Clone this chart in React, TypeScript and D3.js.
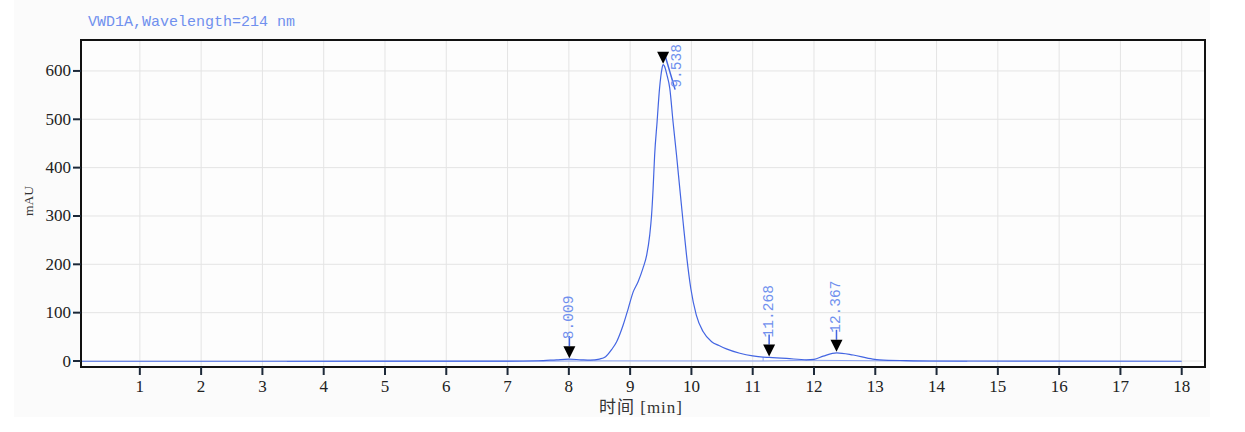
import React from "react";
import * as d3 from "d3";

// chromatogram trace (time in min, signal in mAU)
const TIMES = [
  0.04, 3, 7, 7.5, 7.8, 8.0, 8.2, 8.35, 8.5, 8.6, 8.7, 8.78, 8.885, 8.97, 9.05, 9.13, 9.21, 9.27,
  9.32, 9.35, 9.375, 9.4, 9.44, 9.48, 9.52, 9.538, 9.56, 9.6, 9.647, 9.7, 9.757, 9.81, 9.864,
  9.92, 9.99, 10.08, 10.19, 10.33, 10.45, 10.57, 10.79, 11.0,
  11.17, 11.27, 11.55, 11.88, 12.0, 12.15, 12.37, 12.64, 12.96, 13.07, 13.5, 13.9, 18,
];
const SIGNAL = [
  -0.5, -0.5, -0.3, 0.5, 2.5, 3.8, 2.5, 1.8, 4, 9, 24, 40, 74, 109, 143, 164, 192, 219,
  261, 302, 357, 426, 495, 564, 605, 613, 610, 592, 564, 495, 426, 357, 288,
  219, 150, 95, 61, 40, 32, 25, 16, 10.5,
  8, 7.5, 5.5, 2.5, 3.5, 10, 17, 12.4, 4, 2.5, 0.8, 0, -0.5,
];

// integration baselines
const BASE_START = [3.4, 7.25, 8.4, 11.17, 11.9];
const BASE_END = [7.25, 8.4, 11.17, 11.9, 14.5];
const BASE_V0 = [-1, -0.6, 0.3, 0, 1.5];
const BASE_V1 = [-0.6, 0.3, 0, 1.5, -0.8];

// peak marks
const PEAK_TIMES = [8.009, 9.538, 11.268, 12.367];
const PEAK_HEIGHTS = [3.8, 613, 7.5, 17];
const PEAK_LABELS = ["8.009", "9.538", "11.268", "12.367"];

const X_TICKS = d3.range(1, 19);
const Y_TICKS = [0, 100, 200, 300, 400, 500, 600];

const TITLE = "VWD1A,Wavelength=214 nm";
const X_TITLE = "时间 [min]";
const Y_TITLE = "mAU";

// label that would hit the frame is pushed aside
const LABEL_SHIFT: Record<string, [number, number]> = { "9.538": [14, 36] };

const W = 1245;
const H = 432;
const plot = { left: 81, right: 1205, top: 40, bottom: 367 };

const LINE = "#4365e2";
const LABEL = "#7090ee";
const MONO = "'Liberation Mono', 'DejaVu Sans Mono', monospace";
const SERIF = "'Liberation Serif', 'Noto Sans CJK SC', serif";

export default function App() {
  const x = d3.scaleLinear().domain([0.04, 18.38]).range([plot.left, plot.right]);
  const y = d3.scaleLinear().domain([-12.4, 664]).range([plot.bottom, plot.top]);

  const pts: [number, number][] = TIMES.map((t, i) => [t, SIGNAL[i]]);
  const line = d3
    .line<[number, number]>()
    .x(d => x(d[0]))
    .y(d => y(d[1]))
    .curve(d3.curveMonotoneX);

  const triW = 12;
  const triH = 12;

  return (
    <svg
      width={W}
      height={H}
      style={{ position: "absolute", left: 0, top: 0, background: "#ffffff" }}
    >
      <rect x={14} y={0} width={1196} height={417} fill="#fbfbfb" />
      <rect
        x={plot.left}
        y={plot.top}
        width={plot.right - plot.left}
        height={plot.bottom - plot.top}
        fill="#fdfdfd"
      />

      {/* grid */}
      {X_TICKS.map(t => (
        <line key={"gx" + t} x1={x(t)} x2={x(t)} y1={plot.top} y2={plot.bottom} stroke="#e4e4e4" strokeWidth={1} />
      ))}
      {Y_TICKS.map(v => (
        <line key={"gy" + v} x1={plot.left} x2={plot.right} y1={y(v)} y2={y(v)} stroke="#e4e4e4" strokeWidth={1} />
      ))}

      {/* baselines */}
      {BASE_START.map((t, i) => (
        <line
          key={"b" + i}
          x1={x(t)}
          x2={x(BASE_END[i])}
          y1={y(BASE_V0[i])}
          y2={y(BASE_V1[i])}
          stroke="#8aa2f2"
          strokeWidth={1}
        />
      ))}
      <line x1={x(11.17)} x2={x(11.17)} y1={y(8)} y2={y(0)} stroke="#8aa2f2" strokeWidth={1} />

      {/* trace */}
      <path d={line(pts) ?? ""} fill="none" stroke={LINE} strokeWidth={1.2} />

      {/* peak markers */}
      {PEAK_TIMES.map((t, i) => {
        const px = x(t);
        const tip = y(PEAK_HEIGHTS[i]) - 1;
        const top = tip - triH;
        const label = PEAK_LABELS[i];
        const shift = LABEL_SHIFT[label];
        const lx = shift ? px + shift[0] : px;
        const ly = shift ? top + shift[1] : top - 7;
        return (
          <g key={"p" + i}>
            {shift ? (
              <line x1={px + 2} y1={top + 4} x2={lx - 2} y2={ly + 2} stroke={LINE} strokeWidth={1.5} />
            ) : (
              <line x1={px} x2={px} y1={top} y2={top - 10} stroke={LINE} strokeWidth={1.5} />
            )}
            <path
              d={`M${px - triW / 2},${top} L${px + triW / 2},${top} L${px},${tip} Z`}
              fill="#000"
            />
            <text
              transform={`translate(${lx},${ly}) rotate(-90)`}
              dominantBaseline="central"
              fill={LABEL}
              fontFamily={MONO}
              fontSize={14.5}
            >
              {label}
            </text>
          </g>
        );
      })}

      {/* frame */}
      <rect
        x={plot.left}
        y={plot.top}
        width={plot.right - plot.left}
        height={plot.bottom - plot.top}
        fill="none"
        stroke="#111"
        strokeWidth={2}
      />

      {/* y axis */}
      {Y_TICKS.map(v => (
        <g key={"ty" + v}>
          <line x1={plot.left - 8} x2={plot.left} y1={y(v)} y2={y(v)} stroke="#1c2838" strokeWidth={2} />
          <text
            x={plot.left - 10}
            y={y(v)}
            textAnchor="end"
            dominantBaseline="central"
            fontFamily={SERIF}
            fontSize={17}
            fill="#222"
          >
            {v}
          </text>
        </g>
      ))}

      {/* x axis */}
      {X_TICKS.map(t => (
        <g key={"tx" + t}>
          <line x1={x(t)} x2={x(t)} y1={plot.bottom} y2={plot.bottom + 8} stroke="#1c2838" strokeWidth={2} />
          <text
            x={x(t)}
            y={plot.bottom + 19}
            textAnchor="middle"
            dominantBaseline="central"
            fontFamily={SERIF}
            fontSize={17}
            fill="#222"
          >
            {t}
          </text>
        </g>
      ))}

      <text
        x={641}
        y={407}
        textAnchor="middle"
        dominantBaseline="central"
        fontFamily={SERIF}
        fontSize={17}
        letterSpacing={1}
        fill="#333"
      >
        {X_TITLE}
      </text>
      <text
        transform="translate(28,201) rotate(-90)"
        textAnchor="middle"
        dominantBaseline="central"
        fontFamily={SERIF}
        fontSize={13.5}
        fill="#333"
      >
        {Y_TITLE}
      </text>

      <text x={88} y={22} dominantBaseline="central" fontFamily={MONO} fontSize={15} fill={LABEL}>
        {TITLE}
      </text>
    </svg>
  );
}
